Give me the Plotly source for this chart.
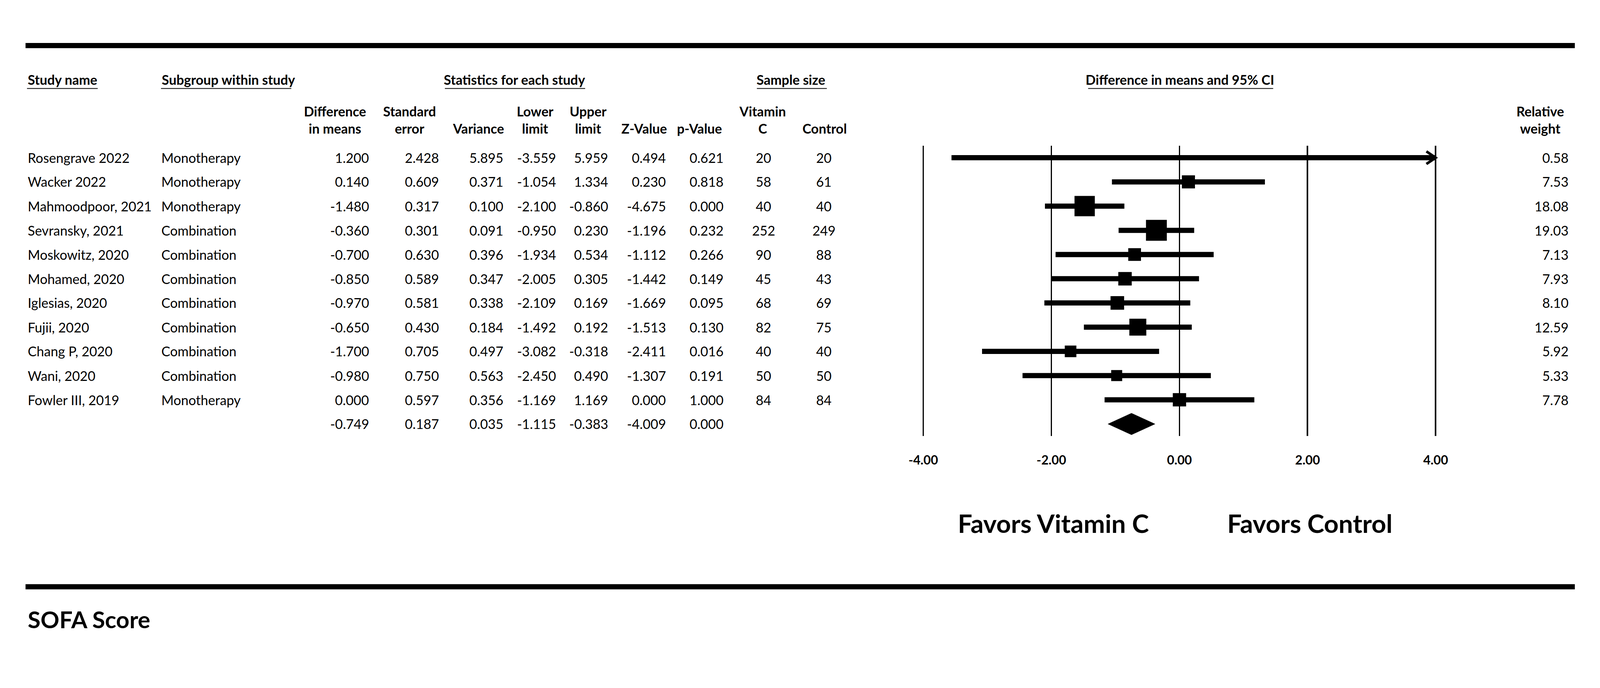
import plotly.graph_objects as go
import math

W, H = 4323, 1761

# ---------------- data ----------------
study_names = ["Rosengrave 2022", "Wacker 2022", "Mahmoodpoor, 2021", "Sevransky, 2021",
               "Moskowitz, 2020", "Mohamed, 2020", "Iglesias, 2020", "Fujii, 2020",
               "Chang P, 2020", "Wani, 2020", "Fowler III, 2019"]
subgroups = ["Monotherapy", "Monotherapy", "Monotherapy", "Combination", "Combination",
             "Combination", "Combination", "Combination", "Combination", "Combination",
             "Monotherapy"]
diff_means = [1.200, 0.140, -1.480, -0.360, -0.700, -0.850, -0.970, -0.650, -1.700, -0.980, 0.000]
std_err = [2.428, 0.609, 0.317, 0.301, 0.630, 0.589, 0.581, 0.430, 0.705, 0.750, 0.597]
variance = [5.895, 0.371, 0.100, 0.091, 0.396, 0.347, 0.338, 0.184, 0.497, 0.563, 0.356]
lower_limit = [-3.559, -1.054, -2.100, -0.950, -1.934, -2.005, -2.109, -1.492, -3.082, -2.450, -1.169]
upper_limit = [5.959, 1.334, -0.860, 0.230, 0.534, 0.305, 0.169, 0.192, -0.318, 0.490, 1.169]
z_value = [0.494, 0.230, -4.675, -1.196, -1.112, -1.442, -1.669, -1.513, -2.411, -1.307, 0.000]
p_value = [0.621, 0.818, 0.000, 0.232, 0.266, 0.149, 0.095, 0.130, 0.016, 0.191, 1.000]
n_vitc = [20, 58, 40, 252, 90, 45, 68, 82, 40, 50, 84]
n_ctrl = [20, 61, 40, 249, 88, 43, 69, 75, 40, 50, 84]
rel_weight = [0.58, 7.53, 18.08, 19.03, 7.13, 7.93, 8.10, 12.59, 5.92, 5.33, 7.78]

summary = {"diff": -0.749, "se": 0.187, "var": 0.035, "lower": -1.115, "upper": -0.383,
           "z": -4.009, "p": 0.000}

tick_vals = [-4, -2, 0, 2, 4]
tick_text = ["-4.00", "-2.00", "0.00", "2.00", "4.00"]
AX_MIN, AX_MAX = -4, 4

# ---------------- geometry helpers ----------------
FONT = "Lato"
def xp(px):
    return px / W
def yp(py):
    return 1 - py / H

ROW0, ROWH = 426.0, 65.4
def row_of(py):
    return (py - ROW0) / ROWH

PX_M4, PX_P4 = 2494.5, 3879.0
UNIT = (PX_P4 - PX_M4) / 8.0
x_dom = [xp(PX_M4 - UNIT), xp(PX_P4 + UNIT)]
y_top_px, y_bot_px = 394, 1178

fig = go.Figure()

n = len(study_names)
rows = list(range(n))
sum_row = n

# CI lines
for i in range(n):
    lo = max(lower_limit[i], AX_MIN)
    hi = min(upper_limit[i], AX_MAX)
    fig.add_trace(go.Scatter(x=[lo, hi], y=[rows[i], rows[i]], mode="lines",
                             line=dict(color="black", width=14), hoverinfo="skip",
                             showlegend=False))
    if upper_limit[i] > AX_MAX:
        dx = 25 / UNIT
        dy = 17 / ROWH
        fig.add_trace(go.Scatter(x=[AX_MAX - dx, AX_MAX, AX_MAX - dx],
                                 y=[rows[i] - dy, rows[i], rows[i] + dy], mode="lines",
                                 line=dict(color="black", width=7), hoverinfo="skip",
                                 showlegend=False))

# Squares sized by relative weight
fig.add_trace(go.Scatter(x=diff_means, y=rows, mode="markers",
                         marker=dict(symbol="square", color="black", opacity=1,
                                     size=[12.9 * math.sqrt(w) for w in rel_weight],
                                     line=dict(width=0)),
                         hoverinfo="skip", showlegend=False))

# Summary diamond
hh = 29 / ROWH
fig.add_trace(go.Scatter(x=[summary["lower"], summary["diff"], summary["upper"], summary["diff"], summary["lower"]],
                         y=[sum_row, sum_row - hh, sum_row, sum_row + hh, sum_row],
                         mode="lines", fill="toself", fillcolor="black",
                         line=dict(color="black", width=1), hoverinfo="skip", showlegend=False))

ann = []
def txt(text, x, y, anchor="left", size=36, bold=False, yref="paper", align=None):
    ann.append(dict(text=f"<b>{text}</b>" if bold else text, x=x, y=y, xref="paper", yref=yref,
                    xanchor=anchor, yanchor="middle", showarrow=False,
                    align=align or ("left" if anchor == "left" else "right" if anchor == "right" else "center"),
                    font=dict(family=FONT, size=size, color="black")))

# table rows
fmt3 = lambda v: f"{v:.3f}"
for i in range(n):
    r = rows[i]
    txt(study_names[i], xp(73), r, "left", yref="y")
    txt(subgroups[i], xp(434), r, "left", yref="y")
    txt(fmt3(diff_means[i]), xp(999), r, "right", yref="y")
    txt(fmt3(std_err[i]), xp(1188), r, "right", yref="y")
    txt(fmt3(variance[i]), xp(1362), r, "right", yref="y")
    txt(fmt3(lower_limit[i]), xp(1504), r, "right", yref="y")
    txt(fmt3(upper_limit[i]), xp(1645), r, "right", yref="y")
    txt(fmt3(z_value[i]), xp(1801), r, "right", yref="y")
    txt(fmt3(p_value[i]), xp(1957), r, "right", yref="y")
    txt(str(n_vitc[i]), xp(2063), r, "center", yref="y")
    txt(str(n_ctrl[i]), xp(2226), r, "center", yref="y")
    txt(f"{rel_weight[i]:.2f}", xp(4240), r, "right", yref="y")

# summary row
for key, px in [("diff", 999), ("se", 1188), ("var", 1362), ("lower", 1504),
                ("upper", 1645), ("z", 1801), ("p", 1957)]:
    txt(fmt3(summary[key]), xp(px), sum_row, "right", yref="y")

# group headers
HY = yp(215)
txt("Study name", xp(73), HY, "left", bold=True)
txt("Subgroup within study", xp(435), HY, "left", bold=True)
txt("Statistics for each study", xp(1390), HY, "center", bold=True)
txt("Sample size", xp(2137), HY, "center", bold=True)
txt("Difference in means and 95% CI", xp(3188), HY, "center", bold=True)

# column headers
two = yp(323.5)
one = yp(347)
txt("Difference<br>in means", xp(905), two, "center", bold=True)
txt("Standard<br>error", xp(1106), two, "center", bold=True)
txt("Variance", xp(1292), one, "center", bold=True)
txt("Lower<br>limit", xp(1446), two, "center", bold=True)
txt("Upper<br>limit", xp(1589), two, "center", bold=True)
txt("Z-Value", xp(1740), one, "center", bold=True)
txt("p-Value", xp(1890), one, "center", bold=True)
txt("Vitamin<br>C", xp(2060), two, "center", bold=True)
txt("Control", xp(2228), one, "center", bold=True)
txt("Relative<br>weight", xp(4228), two, "right", bold=True, align="center")

# favours labels and title
txt("Favors Vitamin C", xp(2586), yp(1413), "left", size=69, bold=True)
txt("Favors Control", xp(3314), yp(1413), "left", size=69, bold=True)
txt("SOFA Score", xp(73), yp(1672), "left", size=63, bold=True)

shapes = []
# thick bars
for y0, y1 in [(116, 130), (1578, 1592)]:
    shapes.append(dict(type="rect", xref="paper", yref="paper", x0=xp(69), x1=xp(4255),
                       y0=yp(y1), y1=yp(y0), fillcolor="black", line=dict(width=0)))
# header underlines
for a, b in [(73, 264), (435, 787), (1202, 1581), (2045, 2234), (2940, 3440)]:
    shapes.append(dict(type="line", xref="paper", yref="paper", x0=xp(a), x1=xp(b),
                       y0=yp(239), y1=yp(239), line=dict(color="black", width=2)))

fig.update_layout(
    width=W, height=H, autosize=False,
    margin=dict(l=0, r=0, t=0, b=0, pad=0),
    paper_bgcolor="white", plot_bgcolor="white",
    annotations=ann, shapes=shapes,
    xaxis=dict(domain=x_dom, range=[AX_MIN - 1, AX_MAX + 1], tickvals=tick_vals, ticktext=tick_text,
               showgrid=True, gridcolor="black", gridwidth=4, zeroline=False, showline=False,
               ticks="", ticklabelstandoff=42,
               tickfont=dict(family=FONT, size=34, color="black", weight="bold"),
               fixedrange=True),
    yaxis=dict(domain=[yp(y_bot_px), yp(y_top_px)], range=[row_of(y_bot_px), row_of(y_top_px)],
               showgrid=False, zeroline=False, showticklabels=False, showline=False, ticks="",
               fixedrange=True),
)

fit_js = """
var gd = document.getElementById('{plot_id}');
document.documentElement.style.margin = '0';
document.body.style.margin = '0';
document.documentElement.style.overflow = 'hidden';
document.body.style.overflow = 'hidden';
function fitFig() {
  var s = Math.min(window.innerWidth / %d, window.innerHeight / %d);
  gd.style.transformOrigin = '0 0';
  gd.style.transform = 'scale(' + s + ')';
}
fitFig();
window.addEventListener('resize', fitFig);
""" % (W, H)

fig.write_html("out.html", post_script=fit_js, config={"displayModeBar": False})
